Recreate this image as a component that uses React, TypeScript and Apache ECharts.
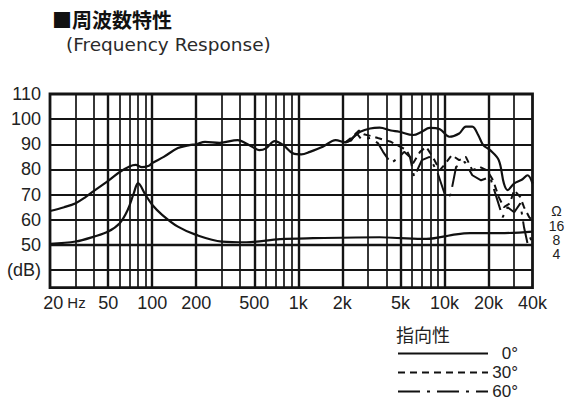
import React, { useEffect, useRef } from "react";
import * as echarts from "echarts";

// ---- data ----
const freq0 = [20, 25, 30, 35, 40, 50, 60, 70, 77, 85, 95, 100, 120, 150, 180, 200, 230, 290, 385, 440, 500, 540, 600, 690, 790, 920, 1050, 1200, 1470, 1800, 2100, 2400, 2650, 3100, 3600, 4300, 4900, 6100, 7000, 7900, 9300, 10800, 12600, 14000, 15500, 17000, 18400, 20500, 23500, 25500, 27000, 30000, 34000, 37000, 40000];
const spl0 = [63.5, 65, 66.6, 69, 71.5, 75.5, 79, 81.2, 81.8, 80.9, 81.5, 82.5, 85, 88.5, 89.7, 90, 91, 90.6, 91.7, 90.3, 88.5, 87.7, 88.4, 91.3, 89.7, 86.4, 86, 87, 89, 91.7, 90.8, 93, 95, 96.3, 96.6, 95.5, 95, 93.7, 95, 96.5, 96, 93, 94.3, 97, 97, 93.7, 89.7, 87.7, 83.7, 74.4, 71.8, 74.5, 76, 77.7, 74.5];

const freq30 = [2100, 2400, 2600, 2800, 3200, 3500, 4300, 5000, 5500, 6100, 6800, 7500, 8300, 9300, 10200, 11200, 12600, 14000, 15500, 17500, 19500, 21500, 23500, 25500, 28000, 30000, 33000, 35000, 38000, 40000];
const spl30 = [90.8, 93.5, 95.5, 94, 93.2, 92.5, 91, 89, 87.7, 82.5, 87, 89, 85, 79.7, 82.5, 85.7, 83.7, 85, 79.7, 81, 79.7, 75.7, 69, 65, 66.5, 71.8, 69, 65, 61, 59.8];

const freq60 = [2100, 2300, 2500, 2700, 3100, 3500, 3800, 4300, 4800, 5300, 5800, 6200, 7000, 7900, 9000, 10200, 11000, 12000, 13800, 15500, 17800, 20500, 23000, 25000, 27000, 30000, 33000, 35000, 37000, 38500, 40000];
const spl60 = [90.8, 91.5, 94.5, 92, 92.5, 90.5, 87, 82.5, 84.5, 87, 85, 77, 83.7, 85, 78.4, 69, 69.8, 81, 83, 77.7, 75.7, 77, 67.8, 61, 65, 63, 66.5, 57, 50.6, 53, 50.6];

// impedance (ohm)
const freqZ = [20, 30, 40, 50, 60, 68, 75, 80, 90, 100, 117, 150, 200, 300, 440, 750, 1260, 3600, 5000, 7500, 12000, 15000, 24000, 40000];
const ohmZ = [6.6, 7.4, 9.4, 12, 18, 34, 78, 125, 71, 44, 27, 15.2, 10.2, 7.4, 7.15, 8.3, 8.7, 9.1, 8.7, 8.4, 10.5, 11.1, 11.1, 12];

const xTickValues = [20, 50, 100, 200, 500, 1000, 2000, 5000, 10000, 20000, 40000];
const xTickLabels = ["20 Hz", "50", "100", "200", "500", "1k", "2k", "5k", "10k", "20k", "40k"];
const yTickValues = [40, 50, 60, 70, 80, 90, 100, 110];
const yTickLabels = ["(dB)", "50", "60", "70", "80", "90", "100", "110"];
const zTickValues = [4, 8, 16, 32];
const zTickLabels = ["4", "8", "16", "Ω"];

const vGridMinor = [30, 40, 60, 70, 80, 90, 300, 400, 600, 700, 800, 900, 3000, 4000, 6000, 7000, 8000, 9000, 30000];
const vGridMajor = [50, 100, 200, 500, 1000, 2000, 5000, 10000, 20000];
const hGrid = [40, 50, 60, 70, 80, 90, 100];

const seriesNames = ["0°", "30°", "60°"];

const zip = (a: number[], b: number[]) => a.map((v, i) => [v, b[i]]);
const near = (a: number, b: number) => Math.abs(a - b) / Math.abs(b) < 1e-4;

export default function App() {
  const ref = useRef<HTMLDivElement>(null);
  useEffect(() => {
    const chart = echarts.init(ref.current!, null, { renderer: "svg" });
    const lineColor = "#141414";
    const gridData: any[] = [
      ...vGridMinor.map((v) => ({ xAxis: v, lineStyle: { width: 1.7 } })),
      ...vGridMajor.map((v) => ({ xAxis: v, lineStyle: { width: 2.4 } })),
      ...hGrid.map((v) => ({ yAxis: v, lineStyle: { width: v === 50 ? 2.4 : 2 } })),
    ];
    const xMax = xTickValues[xTickValues.length - 1];
    const option: any = {
      animation: false,
      backgroundColor: "#ffffff",
      title: [
        {
          text: "■周波数特性",
          left: 52,
          top: 9,
          padding: 0,
          textStyle: { fontSize: 20, fontWeight: "bold", fontFamily: "Noto Sans CJK JP", color: "#111" },
        },
        {
          text: "(Frequency Response)",
          left: 66,
          top: 35,
          padding: 0,
          textStyle: { fontSize: 18.5, fontWeight: "normal", fontFamily: "DejaVu Sans", color: "#2a2a2a" },
        },
        {
          text: "指向性",
          left: 396,
          top: 325,
          padding: 0,
          textStyle: { fontSize: 18, fontWeight: "normal", fontFamily: "Noto Sans CJK JP", color: "#222" },
        },
      ],
      legend: {
        orient: "vertical",
        left: 397,
        top: 344,
        height: 62,
        padding: 0,
        itemWidth: 90,
        itemHeight: 12,
        itemGap: 0,
        data: seriesNames,
        formatter: "{r|{name}}",
        itemStyle: { opacity: 0 },
        textStyle: {
          color: "#222",
          fontFamily: "Liberation Sans",
          fontSize: 17,
          lineHeight: 19,
          rich: { r: { width: 25, align: "right", fontSize: 17, lineHeight: 19, fontFamily: "Liberation Sans", color: "#222" } },
        },
      },
      grid: {
        left: 50,
        right: 32.5,
        top: 94,
        bottom: 115.3,
        show: true,
        borderWidth: 2.8,
        borderColor: lineColor,
        backgroundColor: "transparent",
      },
      xAxis: {
        type: "log",
        logBase: 10,
        min: 20,
        max: 40000,
        axisLine: { show: false },
        axisTick: { show: false },
        splitLine: { show: false },
        axisLabel: {
          customValues: xTickValues,
          showMinLabel: true,
          showMaxLabel: true,
          margin: 6,
          color: "#222",
          fontSize: 18,
          fontFamily: "Liberation Sans",
          formatter: (v: number) => {
            const i = xTickValues.findIndex((t) => near(v, t));
            if (i < 0) return "";
            if (i === 0) {
              const [n, u] = xTickLabels[0].split(" ");
              return `{n|${n}}{u|${u}}`;
            }
            return xTickLabels[i];
          },
          rich: {
            n: { fontSize: 18, fontFamily: "Liberation Sans", color: "#222", padding: [0, 4, 0, 29] },
            u: { fontSize: 15, fontFamily: "Liberation Sans", color: "#222" },
          },
        },
      },
      yAxis: [
        {
          type: "value",
          min: 33,
          max: 110,
          axisLine: { show: false },
          axisTick: { show: false },
          splitLine: { show: false },
          axisLabel: {
            customValues: yTickValues,
            showMinLabel: true,
            showMaxLabel: true,
            margin: 9,
            color: "#222",
            fontSize: 18,
            fontFamily: "Liberation Sans",
            formatter: (v: number) => {
              const i = yTickValues.findIndex((t) => near(v, t));
              return i < 0 ? "" : yTickLabels[i];
            },
          },
        },
        {
          type: "log",
          logBase: 2,
          min: 0.792,
          max: 9344,
          position: "right",
          axisLine: { show: false },
          axisTick: { show: false },
          splitLine: { show: false },
          axisLabel: { show: false },
        },
      ],
      series: [
        {
          name: "grid",
          type: "line",
          data: [],
          z: 1,
          silent: true,
          markLine: {
            silent: true,
            symbol: ["none", "none"],
            label: { show: false },
            emphasis: { disabled: true },
            lineStyle: { color: lineColor, type: "solid", width: 1.5 },
            data: gridData,
          },
        },
        {
          name: seriesNames[0],
          type: "line",
          data: zip(freq0, spl0),
          smooth: 0.35,
          symbol: "none",
          z: 5,
          lineStyle: { color: "#111", width: 2.2, type: "solid" },
          itemStyle: { color: "#111" },
        },
        {
          name: seriesNames[1],
          type: "line",
          data: zip(freq30, spl30),
          symbol: "none",
          z: 4,
          lineStyle: { color: "#111", width: 2, type: [7, 5] },
          itemStyle: { color: "#111" },
        },
        {
          name: seriesNames[2],
          type: "line",
          data: zip(freq60, spl60),
          symbol: "none",
          z: 4,
          lineStyle: { color: "#111", width: 2, type: [22, 7, 3, 7] },
          itemStyle: { color: "#111" },
        },
        {
          name: "impedance",
          type: "line",
          yAxisIndex: 1,
          data: zip(freqZ, ohmZ),
          smooth: 0.35,
          symbol: "none",
          z: 5,
          lineStyle: { color: "#111", width: 2.2 },
          itemStyle: { color: "#111" },
          markPoint: {
            silent: true,
            symbol: "rect",
            symbolSize: 1,
            itemStyle: { color: "rgba(0,0,0,0)" },
            label: {
              show: true,
              position: "inside",
              offset: [24, 0],
              align: "center",
              verticalAlign: "middle",
              formatter: "{b}",
              color: "#222",
              fontSize: 14,
              lineHeight: 13,
              fontFamily: "Liberation Sans",
            },
            data: zTickValues.map((v, i) => ({ name: zTickLabels[i], coord: [xMax, v] })),
          },
        },
      ],
    };
    chart.setOption(option);
    return () => chart.dispose();
  }, []);
  return <div ref={ref} style={{ position: "fixed", left: 0, top: 0, width: 565, height: 403 }} />;
}
